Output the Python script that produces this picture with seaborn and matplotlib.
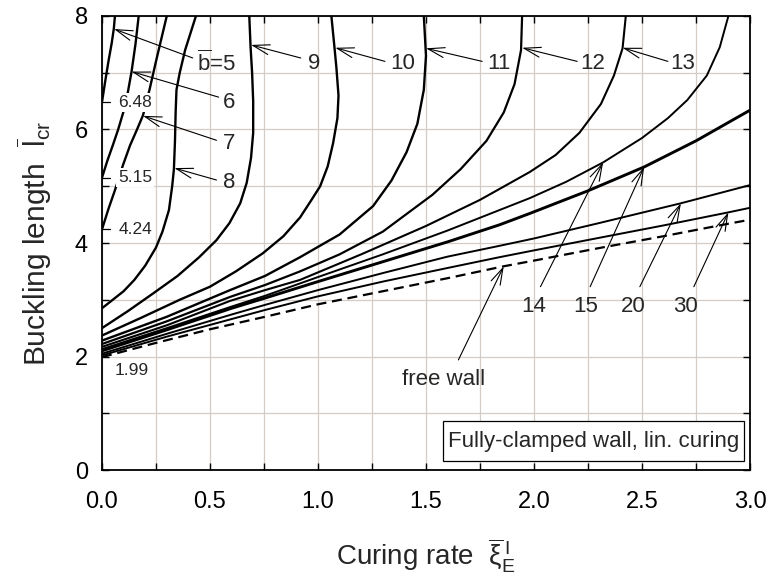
import numpy as np
import pandas as pd
import matplotlib
matplotlib.use("Agg")
import matplotlib.pyplot as plt
from matplotlib.patches import Rectangle
from matplotlib.ticker import MultipleLocator
import seaborn as sns

# ---- critical buckling length vs. curing rate, one curve per b ----
b5_x = [0.0, 0.015, 0.03, 0.045, 0.055, 0.06]
b5_y = [6.48, 6.85, 7.2, 7.52, 7.78, 8.0]

b6_x = [0.0, 0.025, 0.05, 0.075, 0.10, 0.12, 0.137, 0.155, 0.17]
b6_y = [5.15, 5.45, 5.72, 6.0, 6.32, 6.66, 7.02, 7.5, 8.0]

b7_x = [0.0, 0.03, 0.06, 0.097, 0.13, 0.16, 0.19, 0.22, 0.25, 0.275, 0.30]
b7_y = [4.24, 4.6, 4.93, 5.37, 5.72, 5.98, 6.25, 6.7, 7.2, 7.6, 8.0]

b8_x = [0.0, 0.05, 0.10, 0.15, 0.20, 0.25, 0.28, 0.31, 0.325, 0.333, 0.338, 0.341,
        0.345, 0.36, 0.385, 0.41, 0.435]
b8_y = [2.85, 3.0, 3.15, 3.35, 3.6, 3.92, 4.2, 4.58, 5.0, 5.3, 5.8, 6.3,
        6.7, 7.0, 7.4, 7.7, 8.0]

b9_x = [0.0, 0.12, 0.24, 0.35, 0.45, 0.53, 0.59, 0.64, 0.67, 0.69, 0.70, 0.70,
        0.695, 0.688, 0.682]
b9_y = [2.5, 2.8, 3.12, 3.42, 3.75, 4.05, 4.35, 4.7, 5.06, 5.5, 5.94, 6.5,
        7.0, 7.45, 8.0]

b10_x = [0.0, 0.18, 0.36, 0.5, 0.62, 0.745, 0.84, 0.917, 0.97, 1.01, 1.045,
         1.07, 1.09, 1.095, 1.085, 1.075, 1.062]
b10_y = [2.37, 2.68, 3.0, 3.23, 3.5, 3.82, 4.12, 4.45, 4.76, 5.0, 5.35,
         5.76, 6.2, 6.6, 7.1, 7.5, 8.0]

b11_x = [0.0, 0.3, 0.593, 0.755, 0.917, 1.1, 1.255, 1.34, 1.41, 1.46, 1.49, 1.50, 1.49]
b11_y = [2.28, 2.7, 3.17, 3.42, 3.75, 4.15, 4.65, 5.1, 5.6, 6.1, 6.7, 7.3, 8.0]

b12_x = [0.0, 0.3, 0.593, 0.755, 0.917, 1.1, 1.3, 1.53, 1.66, 1.78, 1.86, 1.91, 1.94, 1.945]
b12_y = [2.22, 2.62, 3.05, 3.26, 3.5, 3.8, 4.2, 4.85, 5.3, 5.8, 6.3, 6.8, 7.4, 8.0]

b13_x = [0.0, 0.3, 0.593, 0.755, 0.917, 1.2, 1.5, 1.75, 1.98, 2.1, 2.21, 2.31,
         2.37, 2.41, 2.425]
b13_y = [2.17, 2.55, 2.98, 3.17, 3.35, 3.8, 4.3, 4.76, 5.25, 5.55, 5.94, 6.45,
         6.95, 7.43, 8.0]

b14_x = [0.0, 0.3, 0.6, 0.755, 1.0, 1.3, 1.6, 1.84, 1.98, 2.15, 2.32, 2.5, 2.62,
         2.71, 2.8, 2.86, 2.90]
b14_y = [2.13, 2.5, 2.88, 3.07, 3.4, 3.8, 4.22, 4.58, 4.79, 5.08, 5.42, 5.85, 6.2,
         6.52, 6.95, 7.45, 8.0]

b15_x = [0.0, 0.3, 0.6, 0.755, 1.0, 1.3, 1.6, 1.84, 1.98, 2.25, 2.51, 2.75, 3.0]
b15_y = [2.10, 2.47, 2.85, 3.03, 3.32, 3.67, 4.02, 4.32, 4.52, 4.92, 5.34, 5.8, 6.34]

b20_x = [0.0, 0.3, 0.6, 0.755, 1.0, 1.3, 1.6, 1.84, 2.0, 2.3, 2.68, 3.0]
b20_y = [2.05, 2.4, 2.74, 2.91, 3.17, 3.47, 3.76, 3.95, 4.08, 4.35, 4.70, 5.02]

b30_x = [0.0, 0.3, 0.6, 0.755, 1.0, 1.3, 1.6, 1.84, 2.0, 2.3, 2.6, 2.9, 3.0]
b30_y = [2.02, 2.35, 2.66, 2.82, 3.06, 3.32, 3.56, 3.75, 3.87, 4.09, 4.31, 4.54, 4.62]

free_x = [0.0, 0.25, 0.5, 0.755, 1.0, 1.3, 1.6, 1.86, 2.0, 2.3, 2.6, 2.9, 3.0]
free_y = [1.99, 2.24, 2.48, 2.70, 2.92, 3.15, 3.38, 3.59, 3.69, 3.91, 4.12, 4.34, 4.41]

# ---- labels with arrows: (text, text centre, arrow tail, arrow tip) ----
curve_labels = [r"$\overline{\mathrm{b}}$=5", "6", "7", "8", "9", "10", "11", "12", "13",
                "14", "15", "20", "30", "free wall"]
label_pos = [(0.53, 7.17), (0.59, 6.47), (0.59, 5.76), (0.59, 5.06), (0.98, 7.17),
             (1.39, 7.17), (1.84, 7.17), (2.27, 7.17), (2.69, 7.17),
             (2.00, 2.88), (2.24, 2.88), (2.46, 2.88), (2.70, 2.88), (1.58, 1.60)]
arrow_tail = [(0.42, 7.26), (0.54, 6.57), (0.53, 5.81), (0.53, 5.11), (0.92, 7.26),
              (1.31, 7.2), (1.76, 7.2), (2.20, 7.2), (2.62, 7.2),
              (2.03, 3.23), (2.26, 3.23), (2.49, 3.23), (2.74, 3.23), (1.65, 1.94)]
arrow_tip = [(0.056, 7.77), (0.137, 7.02), (0.19, 6.24), (0.335, 5.32), (0.69, 7.49),
             (1.08, 7.44), (1.50, 7.43), (1.945, 7.44), (2.41, 7.44),
             (2.32, 5.42), (2.51, 5.34), (2.68, 4.70), (2.90, 4.54), (1.86, 3.59)]

x_major = [0.0, 0.5, 1.0, 1.5, 2.0, 2.5, 3.0]
x_ticklabels = ["0.0", "0.5", "1.0", "1.5", "2.0", "2.5", "3.0"]
y_major = [0, 2, 4, 6, 8]

sns.set_theme(style="ticks")
plt.rcParams["font.family"] = ["Liberation Sans", "DejaVu Sans"]
plt.rcParams["mathtext.fontset"] = "custom"
plt.rcParams["mathtext.rm"] = "Liberation Sans"
plt.rcParams["mathtext.it"] = "Liberation Sans:italic"
plt.rcParams["mathtext.bf"] = "Liberation Sans:bold"

fig = plt.figure(figsize=(7.69, 5.81), dpi=100)
ax = fig.add_axes([0.1326, 0.1910, 0.8427, 0.7815])

curves = [
    (b5_x, b5_y, 1.7), (b6_x, b6_y, 1.7), (b7_x, b7_y, 1.7), (b8_x, b8_y, 1.7),
    (b9_x, b9_y, 1.7), (b10_x, b10_y, 1.7), (b11_x, b11_y, 1.7), (b12_x, b12_y, 1.6),
    (b13_x, b13_y, 1.5), (b14_x, b14_y, 1.4), (b15_x, b15_y, 2.1),
    (b20_x, b20_y, 1.4), (b30_x, b30_y, 1.4),
]
for xs, ys, lw in curves:
    sns.lineplot(x=xs, y=ys, ax=ax, sort=False, estimator=None, color="black",
                 linewidth=lw, zorder=3)
sns.lineplot(x=free_x, y=free_y, ax=ax, sort=False, estimator=None, color="black",
             linewidth=1.6, dashes=False, zorder=3)
ax.lines[-1].set_dashes((4.5, 2.6))

# starting values marked on the left edge
for ys in (b5_y, b6_y, b7_y):
    v = ys[0]
    ax.plot([0.0, 0.035], [v, v], color="black", lw=0.9, zorder=4, clip_on=False)
    ax.text(0.075, v, f"{v:.2f}", fontsize=12.5, ha="left", va="center", zorder=5,
            bbox=dict(boxstyle="square,pad=0.12", fc="white", ec="none"))
ax.text(0.06, free_y[0] - 0.24, f"{free_y[0]:.2f}", fontsize=12.5, ha="left", va="center",
        zorder=5)

for txt, pos, tail, tip in zip(curve_labels, label_pos, arrow_tail, arrow_tip):
    ax.annotate("", xy=tip, xytext=tail, zorder=6,
                arrowprops=dict(arrowstyle="->,head_length=0.6,head_width=0.18",
                                mutation_scale=20, lw=0.8, color="black",
                                shrinkA=0, shrinkB=0))
    ax.text(pos[0], pos[1], txt, fontsize=16, ha="center", va="center", zorder=6)

# title box
ax.add_patch(Rectangle((1.58, 0.16), 1.39, 0.70, fc="white", ec="black", lw=0.9, zorder=5))
ax.text(2.275, 0.51, "Fully-clamped wall, lin. curing", fontsize=16, ha="center",
        va="center", zorder=6)

ax.set_xlim(0, 3)
ax.set_ylim(0, 8)
ax.set_xticks(x_major)
ax.set_xticklabels(x_ticklabels)
ax.xaxis.set_minor_locator(MultipleLocator(0.25))
ax.set_yticks(y_major)
ax.yaxis.set_minor_locator(MultipleLocator(1))
ax.grid(which="both", color="#d4cdc7", lw=0.9)
ax.set_axisbelow(True)
ax.tick_params(which="both", direction="in", top=True, right=True, length=5, width=1,
               colors="black", labelsize=17)
ax.tick_params(axis="x", which="major", pad=15)
ax.tick_params(axis="y", which="major", pad=10)
for s in ax.spines.values():
    s.set_color("black")
    s.set_linewidth(1.3)

ax.set_xlabel(r"Curing rate  $\overline{\mathrm{\xi}}^{\,\mathrm{I}}_{\mathrm{E}}$", fontsize=20,
              labelpad=17)
ax.set_ylabel(r"Buckling length  $\overline{\mathrm{l}}_{\mathrm{cr}}$", fontsize=21.5,
              labelpad=15)

fig.savefig("out.png", dpi=100)
